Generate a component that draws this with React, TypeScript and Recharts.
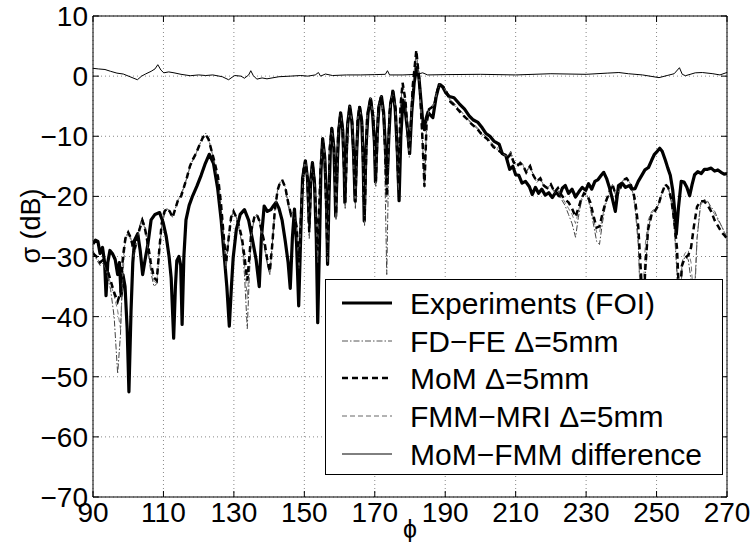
import React from "react";
import { LineChart, Line, XAxis, YAxis, CartesianGrid, ReferenceLine } from "recharts";

const FONT = '"Liberation Sans", Arial, Helvetica, sans-serif';

const xTicks = [90, 110, 130, 150, 170, 190, 210, 230, 250, 270];
const yTicks = [-70, -60, -50, -40, -30, -20, -10, 0, 10];

// Experiments (FOI)
const expPhi = [
  90, 90.7, 91.4, 92, 92.7, 93.3, 93.7, 94.2, 94.8, 95.6,
  96.3, 97, 97.5, 98, 98.5, 99.1, 99.7, 100.2, 100.8, 101.3,
  101.8, 102.7, 103.4, 104.1, 104.8, 105.6, 106.5, 107.6, 108.9, 109.9,
  110.8, 111.6, 112.2, 112.9, 113.4, 113.8, 114.4, 114.9, 115.3, 115.8,
  116.4, 117.3, 118.3, 119.5, 120.7, 121.9, 123, 124.2, 125.4, 126.4,
  127.3, 128, 128.7, 129.3, 129.8, 130.7, 131.8, 133, 134.2, 135.3,
  136.3, 137.2, 137.8, 138.6, 139.5, 140.5, 141.3, 142, 142.8, 143.7,
  144.6, 145.4, 146, 146.6, 147.2, 147.8, 148.4, 149, 149.5, 150.3,
  150.9, 151.4, 151.8, 152.3, 152.9, 153.4, 153.8, 154.3, 154.7, 155.2,
  155.8, 156.3, 156.6, 157, 157.4, 157.8, 158.4, 158.7, 158.9, 159.4,
  159.8, 160.3, 160.9, 161.3, 161.5, 161.9, 162.3, 162.9, 163.5, 164,
  164.4, 164.9, 165.3, 165.7, 166.3, 166.7, 167, 167.5, 168.1, 168.8,
  169.4, 169.9, 170.2, 170.7, 171.2, 171.9, 172.5, 173, 173.5, 174,
  174.5, 175.2, 175.8, 176.4, 176.9, 177.4, 178, 178.6, 179.3, 179.9,
  180.5, 181.2, 181.9, 182.5, 183.1, 183.6, 184.1, 184.6, 185.1, 185.8,
  186.5, 187.4, 188.3, 189.3, 190.2, 191.2, 192.5, 194, 195.5, 196.8,
  198, 199.3, 200.5, 201.5, 202.7, 203.8, 205.3, 206.2, 207.2, 208.3,
  209.2, 210, 210.9, 211.8, 212.8, 213.9, 214.7, 215.6, 216.5, 217.4,
  218.4, 219.4, 220.4, 221.4, 222.4, 223.3, 224.1, 225, 226, 227,
  228, 228.9, 229.9, 230.7, 231.6, 232.5, 233.4, 234.3, 235, 235.8,
  236.6, 237.5, 238.3, 239.2, 240.2, 241.2, 242.2, 243, 243.9, 244.8,
  245.8, 246.7, 247.7, 248.6, 249.4, 250.2, 250.9, 251.6, 252.5, 253.2,
  253.9, 254.6, 255.1, 255.6, 256.2, 257, 257.8, 258.6, 259.4, 260.1,
  260.8, 261.7, 262.7, 263.6, 264.5, 265.5, 266.5, 267.4, 268.3, 269.2,
  270,
];
const expVal = [
  -27.9, -27.3, -27.5, -29.5, -28.5, -31, -36.5, -31, -29, -29.6,
  -30.5, -33, -31, -36.5, -33, -35, -42, -52.5, -39, -31,
  -27.3, -26.2, -29, -33, -30.5, -27.9, -23.9, -23, -22.7, -24.3,
  -26.7, -30, -33.6, -43.6, -35, -30.7, -30, -31.5, -41.3, -30,
  -23.9, -21.5, -19.9, -18.3, -16.5, -14.5, -13, -14.5, -18.7, -24,
  -30.2, -35, -41.6, -35, -30.2, -25.5, -23, -22.2, -24, -27.3,
  -30.5, -35, -27, -21.6, -22.5, -22.2, -21.5, -21, -22, -24,
  -27.5, -31, -35.3, -27, -22.1, -28, -38.2, -26, -17, -14.1,
  -17, -24.4, -17.5, -14.4, -18, -27, -41, -28, -16, -10.4,
  -13.5, -21, -31.3, -20, -12, -8.7, -12, -18, -23.3, -14,
  -9, -6.1, -9, -15, -21, -13, -8, -5, -7.5, -13,
  -20.7, -12, -7, -5.2, -7.5, -14, -24.1, -12, -6, -3.8,
  -6.5, -11, -17.6, -9.5, -5, -3.4, -6, -11.5, -17.8, -10,
  -4.5, -2.6, -5.5, -12.5, -20.7, -10, -4, -5.5, -9, -12.9,
  -6, -1, 1.4, 0, -4, -7.5, -8.9, -7, -6, -6.5,
  -6.9, -3.5, -1.4, -1.8, -2.8, -3.4, -3.6, -4.6, -5.5, -6.6,
  -7.3, -7.7, -8.6, -9.5, -10, -10.8, -11.3, -12.9, -13.2, -15.5,
  -15, -16.4, -16.5, -17.8, -17.5, -18.4, -19.7, -18.5, -19.5, -18.8,
  -19.8, -19.4, -20.2, -19.3, -19.9, -18.6, -18.2, -19.5, -18.8, -20.1,
  -19.2, -18.5, -19, -17.9, -18.8, -17.5, -17.2, -16.5, -16, -17,
  -18.5, -20.5, -22.5, -18.2, -17.8, -18.5, -18.2, -18.8, -18.7, -17.5,
  -16.5, -15.6, -15.2, -14, -13, -12.5, -12, -12.5, -14, -15.3,
  -16.5, -19, -22, -26.3, -22, -17.5, -17.6, -18.5, -19.9, -18,
  -16.4, -15.9, -16.2, -15.5, -15.5, -15.3, -15.8, -15.6, -16, -16.3,
  -16.2,
];

// angles shared by the three computed curves
const modelPhi = [
  90, 91, 92, 93, 94, 95, 96, 97, 97.8, 98.5,
  99.2, 100, 100.8, 101.6, 102.4, 103.2, 104, 104.8, 105.6, 106.4,
  107.3, 108.1, 108.8, 109.5, 110.3, 111, 111.8, 112.6, 113.4, 114.2,
  115, 115.8, 116.6, 117.5, 118.4, 119.3, 120.2, 121.2, 122, 122.8,
  123.7, 124.6, 125.5, 126.3, 127.1, 127.8, 128.5, 129.2, 129.9, 130.7,
  131.5, 132.3, 133, 133.8, 134.4, 135, 135.8, 136.5, 137.2, 138,
  138.8, 139.6, 140.2, 140.9, 141.6, 142.4, 143.2, 143.8, 144.6, 145.4,
  146.2, 147, 147.8, 148.5, 149.2, 149.8,
  150.3, 150.9, 151.4, 151.9, 152.3, 152.9, 153.8, 154.6, 155.2, 155.8,
  156.6, 157.2, 157.8, 158.4, 159, 159.6, 160.3, 160.9, 161.6, 162.3,
  162.9, 163.6, 164.5, 165.1, 165.7, 166.4, 167.1, 167.8, 168.8, 169.6,
  170.3, 171, 171.8, 172.6, 173.4, 174.2, 175.1, 175.9, 176.7, 177.3,
  177.9, 178.7, 179.8, 180.8, 181.8, 182.8, 183.5, 184.1, 184.7, 185.4,
  186.2, 187, 187.8, 188.5,
  189.5, 190.5, 191.5, 192.5, 193.5, 195, 196.5, 197.5, 199, 200.5,
  202, 203.7, 205, 206.5, 207.8, 208.6, 209.4, 210.3, 211.3, 212.2,
  213, 214.1, 215, 216, 217, 218, 219, 220, 221, 222,
  223, 224, 225, 226, 227, 227.8, 228.6, 229.4, 230.3, 231.2,
  232.2, 233, 233.8, 234.6, 235.5, 236.5, 237.5, 238.5, 239.5, 240.5,
  241.5, 242.5, 243.3, 244, 244.8, 245.6, 246.2, 246.8, 247.6, 248.6,
  249.5, 250.5, 251.5, 252.5, 253.3, 254.2, 255, 255.8, 256.5, 257.2,
  258, 259, 259.8, 260.6, 261.5, 262.5, 263.5, 264.5, 265.5, 266.5,
  267.5, 268.5, 269.3, 270,
];

// MoM Δ=5mm
const momVal = [
  -29.5, -30, -31, -30.5, -32, -34, -36, -37.5, -36, -30,
  -27, -26, -27, -29, -27.5, -25.5, -24, -25.5, -28, -31,
  -33.5, -34, -29, -24.5, -22.5, -22, -22.5, -23.5, -22, -20.5,
  -20, -18.5, -17, -15, -13.8, -12.8, -11.5, -10.2, -9.7, -10.5,
  -12.5, -14.5, -16.8, -21, -26.5, -31, -27, -23.5, -22.5, -23.5,
  -25, -27, -30, -34, -30, -25.5, -23.5, -23, -24, -26,
  -28, -31, -32.5, -28, -22.5, -19, -17.5, -17.4, -18.5, -21,
  -23, -22.5, -25, -31, -21, -15.5,
  -14, -17, -26, -17, -14.4, -17.5, -29, -15.5, -10.4, -13.5,
  -30, -12, -8.7, -12, -23, -9.5, -6, -9, -21, -8,
  -5, -8, -21, -7.5, -5, -8, -24, -7, -3.6, -7,
  -17.5, -5.5, -3.3, -7, -20, -6, -2.3, -5.5, -18, -5,
  -1.1, -4, -13, -1.5, 4.3, -2, -10, -18.4, -8, -5.5,
  -5.2, -4.5, -2.3, -1.3,
  -1.8, -2.8, -4.3, -4.8, -5.5, -6.5, -7.3, -8, -8.7, -9.8,
  -10.5, -11.8, -12.3, -13, -13.5, -13, -14.3, -15, -14.5, -15,
  -16, -15, -16.5, -17.5, -17, -18.2, -18.6, -18, -19.3, -18.6,
  -19.8, -20.5, -21, -22, -23.4, -22, -20.5, -19.5, -19.8, -21,
  -23.5, -25.2, -25, -23, -21, -19.5, -18, -20, -19, -17.3,
  -17, -17.8, -19, -21, -25, -33, -40, -32, -25.5, -23,
  -22.5, -21.5, -19.5, -18, -18.5, -20.5, -24, -28.6, -38, -31.5,
  -30.3, -29.8, -28.5, -25, -21.7, -20.8, -20.8, -21.5, -22.5, -24,
  -25, -26, -26.5, -27,
];

// FMM-MRI Δ=5mm
const fmmVal = [
  -29.5, -30.2, -31, -31, -32.5, -34.5, -36.5, -39, -42, -33,
  -27.5, -26, -27, -29.5, -27.5, -25.5, -24, -25.5, -28.5, -31.5,
  -34, -34.5, -29, -24.5, -22.5, -22, -22.5, -23.5, -22, -20.5,
  -20, -18.5, -17, -15, -13.8, -12.8, -11.5, -10.2, -9.7, -10.5,
  -12.5, -14.5, -16.8, -21, -26.5, -31.5, -27, -23.5, -22.5, -23.5,
  -25, -27.5, -31, -37, -31, -26, -23.5, -23, -24, -26,
  -28.5, -31.5, -33, -28, -22.5, -19, -17.5, -17.4, -18.5, -21,
  -23, -22.5, -25, -31.5, -21, -15.5,
  -14, -17, -26.5, -17, -14.4, -17.5, -30, -15.5, -10.4, -13.5,
  -30.5, -12, -8.7, -12, -23.5, -9.5, -6, -9, -21.5, -8,
  -5, -8, -21.5, -7.5, -5, -8, -24.5, -7, -3.6, -7,
  -18, -5.5, -3.3, -7, -21, -6, -2.3, -5.5, -18.5, -5,
  -1.1, -4, -13, -1.5, 4.3, -2, -10, -18.4, -8, -5.5,
  -5.2, -4.5, -2.3, -1.3,
  -1.8, -2.8, -4.3, -4.8, -5.5, -6.5, -7.3, -8, -8.7, -9.8,
  -10.5, -11.8, -12.3, -13, -13.5, -13, -14.3, -15, -14.5, -15,
  -16, -15, -16.5, -17.5, -17, -18.2, -18.6, -18, -19.3, -18.6,
  -20, -21, -22, -23, -24.5, -22.5, -20.5, -19.5, -19.8, -21.5,
  -24, -26, -26, -23.5, -21, -19.5, -18, -20, -19, -17.3,
  -17, -17.8, -19.5, -22, -27, -42, -36, -28, -24, -22.5,
  -22, -21.5, -19.5, -18, -18.5, -20.5, -24.5, -32, -45, -31,
  -29.5, -29, -31, -38, -27, -21.5, -20.5, -21, -22, -23,
  -24, -25, -26, -26.8,
];

// FD-FE Δ=5mm
const fdfeVal = [
  -29, -30.5, -31.5, -31, -33, -35.5, -40, -49.5, -43, -31,
  -27, -25.8, -27.5, -30, -28, -25, -23.5, -25, -29, -32.5,
  -35, -34.5, -29.5, -25, -23, -22, -22.5, -23.5, -22, -20.5,
  -19.5, -18.5, -17, -15.2, -14, -12.8, -11.5, -10, -9.5, -10.3,
  -12.5, -15, -17.5, -22, -27.5, -32, -27, -23.5, -22.5, -23.5,
  -25.5, -28, -33, -42, -33, -26.5, -23.5, -23, -24, -26.5,
  -29, -31.5, -33, -28, -22.5, -19, -17.5, -17.2, -18.5, -21.5,
  -23.5, -22.5, -25.5, -32, -21, -15.5,
  -14, -17, -27, -17, -14.4, -18, -31, -15.5, -10.4, -13.5,
  -31, -12, -8.7, -12, -24, -9.5, -6, -9, -22, -8,
  -5, -8, -22, -7.5, -5, -8, -25, -7, -3.6, -7,
  -18.5, -5.5, -3.3, -7.5, -33, -6, -2.3, -5.5, -19, -5,
  -1.2, -4, -13.5, -1.5, 4.1, -2, -10.5, -18.6, -8, -5.5,
  -5, -4.3, -2.3, -1.3,
  -1.8, -2.6, -4, -4.5, -5.2, -6.2, -7.2, -7.8, -8.5, -9.5,
  -10.3, -11.5, -12, -12.8, -13.3, -12.5, -14, -14.7, -14.2, -14.8,
  -16, -14.6, -16.5, -17.7, -17, -18.4, -18.8, -18, -19.5, -19,
  -20.5, -21.5, -23, -24.5, -26.8, -23.5, -21, -19.5, -19.8, -22,
  -25, -27.5, -28, -24.5, -21.5, -19.5, -18, -20, -19, -17.3,
  -17, -17.8, -19.5, -22.5, -28, -40, -45, -33, -25.5, -22.8,
  -22.2, -21.5, -19.5, -18, -18.5, -21, -25, -33, -45, -32,
  -30, -30.5, -34, -40, -27, -21, -20.5, -20.8, -21.8, -22.5,
  -23.8, -25, -26, -27,
];

// MoM-FMM difference
const diffPhi = [
  90, 91.5, 93.4, 95, 96.8, 98.6, 100.5, 102.6, 103.8, 104.9,
  106.5, 107.6, 108.4, 109.3, 110.1, 111.5, 113, 115, 117.6, 120,
  122, 124, 126.7, 128.5, 130.2, 132, 133, 134.2, 134.8, 135.5,
  136.5, 138, 139.4, 142.8, 146, 149, 151, 153.1, 154, 154.6,
  156, 158, 162, 166, 170, 173, 173.6, 174.2, 178, 182,
  183.6, 185, 190, 200, 210, 220, 230, 236, 239.3, 242,
  246, 250.7, 253, 255, 256.5, 257.3, 258.2, 261, 263, 266,
  268, 269.7, 270,
];
const diffVal = [
  1.3, 1.2, 1.1, 0.8, 0.5, 0.35, -0.1, -0.6, 0, 0.35,
  0.8, 1.2, 1.9, 1, 0.55, 0.7, 0.55, 0.3, 0.07, 0.2,
  0.1, 0.2, -0.1, -0.6, 0.1, 0, -0.35, 0.2, 0.9, 0.1,
  -0.5, -0.3, -0.45, -0.1, 0, 0.1, 0, 0.2, 0.6, 0,
  0.35, 0.1, 0.2, 0.2, 0.25, 0.3, 0.9, 0.2, 0.2, 0.3,
  0.55, 0.2, 0.25, 0.3, 0.2, 0.4, 0.3, 0.5, 0.6, 0.4,
  0.2, -0.25, 0.1, 0.4, 1.4, 0.3, 0.07, 0.55, 0.6, 0.4,
  0.2, 0.55, 0.6,
];

const expData = expPhi.map((phi, i) => ({ phi, v: expVal[i] }));
const modelData = modelPhi.map((phi, i) => ({
  phi,
  mom: momVal[i],
  fmm: fmmVal[i],
  fdfe: fdfeVal[i],
}));
const diffData = diffPhi.map((phi, i) => ({ phi, v: diffVal[i] }));

// plot box edges (px)
const BOX_LEFT = 93;
const BOX_RIGHT = 727;
const BOX_TOP = 16;
const BOX_BOTTOM = 497;

const fmt = (v: number) => (v < 0 ? "\u2212" + Math.abs(v) : String(v));

function XTick(props: any) {
  const { x, payload } = props;
  return (
    <g>
      <line x1={x} y1={BOX_BOTTOM} x2={x} y2={BOX_BOTTOM - 6} stroke="#000" />
      <line x1={x} y1={BOX_TOP} x2={x} y2={BOX_TOP + 6} stroke="#000" />
      <text x={x} y={522} textAnchor="middle" fontSize={28} fontFamily={FONT} fill="#000">
        {fmt(payload.value)}
      </text>
    </g>
  );
}

function YTick(props: any) {
  const { y, payload } = props;
  return (
    <g>
      <line x1={BOX_LEFT} y1={y} x2={BOX_LEFT + 6} y2={y} stroke="#000" />
      <line x1={BOX_RIGHT} y1={y} x2={BOX_RIGHT - 6} y2={y} stroke="#000" />
      <text x={88} y={y + 10} textAnchor="end" fontSize={28} fontFamily={FONT} fill="#000">
        {fmt(payload.value)}
      </text>
    </g>
  );
}

const legendRows = [
  { label: "Experiments (FOI)", stroke: "#000", w: 3, dash: undefined as string | undefined },
  { label: "FD\u2212FE \u0394=5mm", stroke: "#555", w: 1, dash: "6 2 1.5 2" },
  { label: "MoM \u0394=5mm", stroke: "#000", w: 2.5, dash: "6 4" },
  { label: "FMM\u2212MRI \u0394=5mm", stroke: "#666", w: 1, dash: "5 3" },
  { label: "MoM\u2212FMM difference", stroke: "#000", w: 1, dash: undefined },
];
const legendY = [303, 341, 378, 416, 454];

export default function App() {
  return (
    <div style={{ position: "absolute", left: 0, top: 0, width: 755, height: 542, background: "#fff" }}>
      <LineChart width={755} height={542} margin={{ top: 16, right: 28, bottom: 15, left: 33 }}>
        <CartesianGrid stroke="#888" strokeDasharray="1 3" strokeWidth={1} />
        <XAxis
          dataKey="phi"
          type="number"
          domain={[90, 270]}
          ticks={xTicks}
          interval={0}
          height={30}
          tickSize={0}
          tickMargin={0}
          tick={<XTick />}
          axisLine={{ stroke: "#000" }}
          allowDataOverflow
        />
        <YAxis
          type="number"
          domain={[-70, 10]}
          ticks={yTicks}
          interval={0}
          width={60}
          tickSize={0}
          tickMargin={0}
          tick={<YTick />}
          axisLine={{ stroke: "#000" }}
          allowDataOverflow
        />
        <ReferenceLine y={10} stroke="#000" />
        <ReferenceLine x={270} stroke="#000" />
        <Line data={expData} dataKey="v" type="linear" stroke="#000" strokeWidth={3.2}
          strokeLinejoin="round" dot={false} isAnimationActive={false} />
        <Line data={modelData} dataKey="fdfe" type="linear" stroke="#444" strokeWidth={1}
          strokeDasharray="6 2 1.5 2" dot={false} isAnimationActive={false} />
        <Line data={modelData} dataKey="fmm" type="linear" stroke="#666" strokeWidth={0.9}
          strokeDasharray="5 3" dot={false} isAnimationActive={false} />
        <Line data={modelData} dataKey="mom" type="linear" stroke="#000" strokeWidth={2.5}
          strokeDasharray="6 4" dot={false} isAnimationActive={false} />
        <Line data={diffData} dataKey="v" type="linear" stroke="#000" strokeWidth={1}
          dot={false} isAnimationActive={false} />
      </LineChart>

      <svg width={755} height={542} style={{ position: "absolute", left: 0, top: 0, pointerEvents: "none" }}>
        <text transform="translate(31,226) rotate(-90)" textAnchor="middle" dominantBaseline="central"
          fontSize={27} fontFamily={FONT} fill="#000">
          σ (dB)
        </text>
        <text x={410} y={538} textAnchor="middle" fontSize={25} fontFamily={FONT} fill="#000">
          ϕ
        </text>
        <rect x={325.5} y={279.5} width={397} height={195} fill="#fff" stroke="#000" />
        {legendRows.map((r, i) => (
          <g key={r.label}>
            <line x1={342} x2={392} y1={legendY[i]} y2={legendY[i]} stroke={r.stroke}
              strokeWidth={r.w} strokeDasharray={r.dash} />
            <text x={410} y={legendY[i] + 10.5} fontSize={30} fontFamily={FONT} fill="#000">
              {r.label}
            </text>
          </g>
        ))}
      </svg>
    </div>
  );
}
